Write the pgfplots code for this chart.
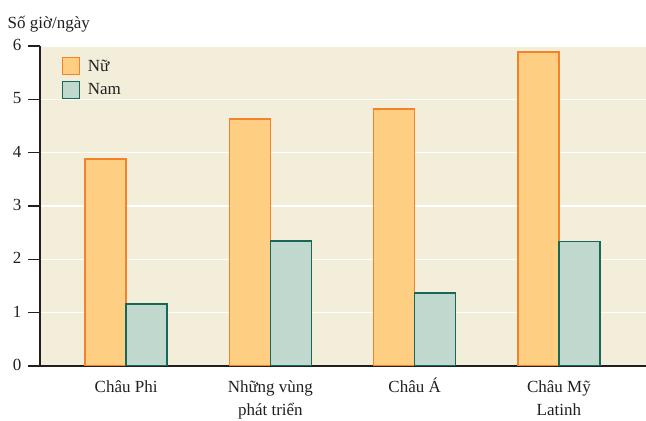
\documentclass[border=0pt]{standalone}
\usepackage{fontspec}
\setmainfont{Liberation Serif}
\usepackage{pgfplots}
\pgfplotsset{compat=1.18}
\usetikzlibrary{calc}

\definecolor{bgbeige}{RGB}{242,238,218}
\definecolor{nufill}{RGB}{254,206,130}
\definecolor{nuline}{RGB}{243,130,40}
\definecolor{namfill}{RGB}{192,216,206}
\definecolor{namline}{RGB}{22,104,88}
\definecolor{inkdark}{RGB}{35,31,32}

\begin{document}
\begin{tikzpicture}
\begin{axis}[
    name=ax,
    scale only axis,
    width=606pt, height=320pt,
    xmin=-0.597, xmax=3.604,
    ymin=0, ymax=6,
    ybar=0pt,
    bar width=41pt,
    axis lines*=left,
    axis line style={inkdark, line width=2.4pt},
    axis background/.style={fill=bgbeige},
    ymajorgrids,
    grid style={white, line width=1.2pt},
    ytick={0,1,2,3,4,5,6},
    xtick={0,1,2,3},
    xticklabels={Châu Phi, Những vùng\\phát triển, Châu Á, Châu Mỹ\\Latinh},
    xtick style={draw=none},
    ytick style={inkdark, line width=1.2pt},
    tick align=outside,
    major tick length=12pt,
    tick label style={font=\fontsize{17}{23}\selectfont, text=inkdark},
    typeset ticklabels with strut,
    xticklabel style={align=center, anchor=north, yshift=5pt},
    yticklabel style={xshift=-3pt},
    /pgf/number format/assume math mode=true,
    legend style={at={(rel axis cs:0,1)}, anchor=north west,
        xshift=22pt, yshift=-11pt,
        draw=none, fill=none, inner sep=0pt,
        font=\fontsize{17}{20}\selectfont, text=inkdark,
        row sep=6pt, column sep=8pt,
        nodes={inner sep=0pt}},
    legend cell align=left,
]
\addplot[fill=nufill, draw=nuline, line width=1.5pt,
    legend image code/.code={\draw[fill=nufill, draw=nuline, line width=1.2pt] (0pt,-8.3pt) rectangle (16.5pt,8.3pt);}]
    coordinates {(0,3.88) (1,4.63) (2,4.82) (3,5.89)};
\addplot[fill=namfill, draw=namline, line width=1.5pt,
    legend image code/.code={\draw[fill=namfill, draw=namline, line width=1.2pt] (0pt,-8.3pt) rectangle (16.5pt,8.3pt);}]
    coordinates {(0,1.16) (1,2.34) (2,1.37) (3,2.33)};
\legend{Nữ, Nam}
\end{axis}
\node[anchor=base west, text=inkdark, font=\fontsize{17}{20}\selectfont, inner sep=0pt]
    at ($(ax.north west)+(-32.5pt,17pt)$) {Số giờ/ngày};
\pgfresetboundingbox
\path ($(ax.south west)+(-40pt,-55pt)$) rectangle ($(ax.north east)+(0pt,46pt)$);
\end{tikzpicture}
\end{document}
